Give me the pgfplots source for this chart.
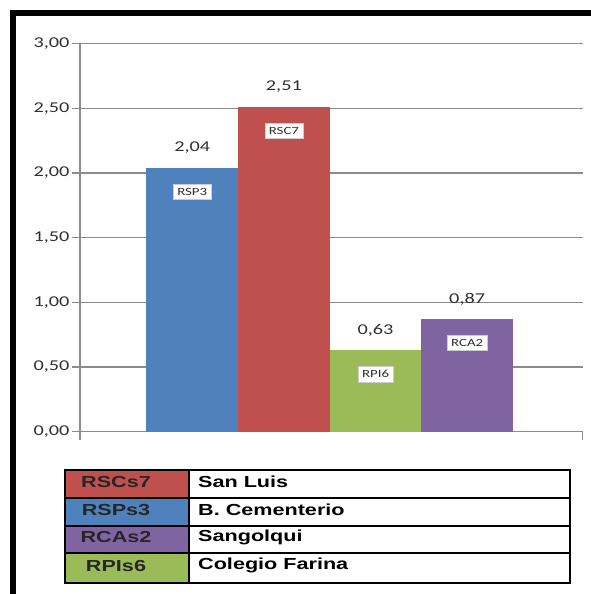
\documentclass[border=0pt]{standalone}
\usepackage{pgfplots}
\pgfplotsset{compat=1.18}
\usepackage{fontspec}
\setmainfont{Carlito}[FakeStretch=1.35]
\newfontfamily\legfont{Liberation Sans}[FakeStretch=1.35]

\definecolor{barblue}{HTML}{4F81BD}
\definecolor{barred}{HTML}{C0504D}
\definecolor{bargreen}{HTML}{9BBB59}
\definecolor{barpurple}{HTML}{8064A2}
\definecolor{gridgray}{HTML}{8C8C8C}
\definecolor{txt}{HTML}{303030}

\pgfplotsset{
  valuebar/.style={
    ybar, bar width=1, bar shift=0pt, draw=none, fill=#1,
    nodes near coords={\pgfmathprintnumber[fixed,fixed zerofill,precision=2,use comma,assume math mode=true]{\pgfplotspointmeta}},
    every node near coord/.append style={anchor=center, yshift=20bp,
      font=\fontsize{15bp}{17bp}\selectfont, text=txt}
  },
  tagbar/.style={
    ybar, bar width=1, bar shift=0pt, draw=none, fill=none,
    nodes near coords={#1},
    every node near coord/.append style={anchor=center, yshift=-24bp,
      fill=white, draw=gray!40, line width=0.6bp, inner xsep=4bp, inner ysep=4bp,
      font=\fontsize{11bp}{13bp}\selectfont, text=txt}
  }
}

\begin{document}
\begin{tikzpicture}[x=1bp,y=1bp]
\useasboundingbox (0,0) rectangle (591,594);
% black frame on the top and left sides
\fill[black] (9.5,0) rectangle (15.5,584);
\fill[black] (9.5,578) rectangle (591,584);

\begin{axis}[
  at={(80bp,162.3bp)}, anchor=south west,
  scale only axis, width=502.7bp, height=388.2bp,
  xmin=-1.225, xmax=4.261, ymin=0, ymax=3,
  clip=false,
  axis lines*=left,
  axis line style={gridgray, line width=1.3bp, -},
  ytick={0,0.5,1,1.5,2,2.5,3},
  xtick={-1.225,4.261}, xticklabels={},
  tick align=outside, major tick length=8bp,
  tick style={gridgray, line width=1.3bp},
  ymajorgrids, major grid style={gridgray, line width=1.3bp},
  yticklabel style={
    /pgf/number format/fixed, /pgf/number format/fixed zerofill,
    /pgf/number format/precision=2, /pgf/number format/use comma,
    /pgf/number format/assume math mode=true,
    font=\fontsize{15bp}{17bp}\selectfont, text=txt, xshift=1bp},
]
% measured values
\addplot[valuebar=barblue]   coordinates {(0,2.04)};
\addplot[valuebar=barred]    coordinates {(1,2.51)};
\addplot[valuebar=bargreen]  coordinates {(2,0.63)};
\addplot[valuebar=barpurple] coordinates {(3,0.87)};
% station tags inside the bars
\addplot[tagbar=RSP3] coordinates {(0,2.04)};
\addplot[tagbar=RSC7] coordinates {(1,2.51)};
\addplot[tagbar=RPI6] coordinates {(2,0.63)};
\addplot[tagbar=RCA2] coordinates {(3,0.87)};
\end{axis}

% key table: code and site
\fill[barred]    (65,95.7) rectangle (188.7,124);
\fill[barblue]   (65,68)   rectangle (188.7,95.7);
\fill[barpurple] (65,40.7) rectangle (188.7,68);
\fill[bargreen]  (65,11.3) rectangle (188.7,40.7);
\draw[black, line width=2bp] (65,11.3) rectangle (570,124);
\draw[black, line width=2bp] (188.7,11.3) -- (188.7,124);
\foreach \yy in {95.7,68,40.7} \draw[black, line width=2bp] (65,\yy) -- (570,\yy);

\begin{scope}[every node/.style={inner sep=0pt, font=\legfont\bfseries\fontsize{16bp}{18bp}\selectfont}]
\node[text=black!85] at (116,112.4) {RSCs7};
\node[text=black!85] at (116,84.4)  {RSPs3};
\node[text=black!85] at (116,56.8)  {RCAs2};
\node[text=black!85] at (116,28.5)  {RPIs6};
\node[anchor=west] at (198,112.4) {San Luis};
\node[anchor=west] at (198,84.4)  {B. Cementerio};
\node[anchor=west] at (198,56.8)  {Sangolqui};
\node[anchor=west] at (198,28.5)  {Colegio Farina};
\end{scope}
\end{tikzpicture}
\end{document}
